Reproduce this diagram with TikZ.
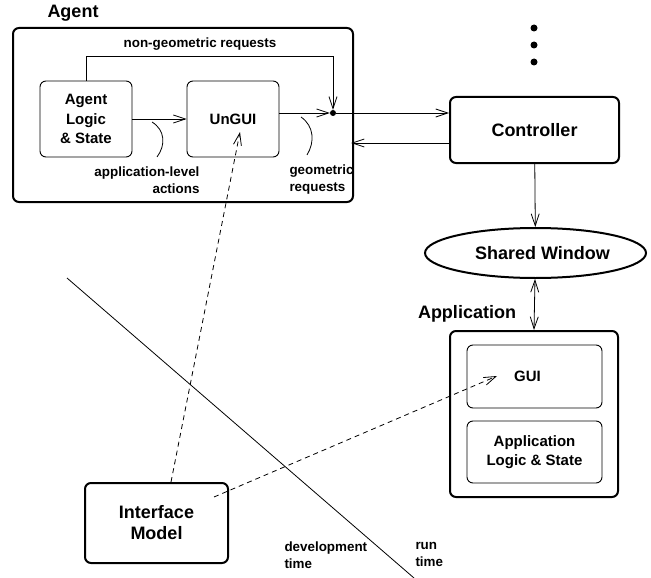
\documentclass[tikz,border=0pt]{standalone}
\usepackage{fontspec}
\setmainfont{Liberation Sans}
\usetikzlibrary{arrows.meta, positioning, shapes.geometric}

\tikzset{
  bigtext/.style={font=\fontsize{18}{21}\selectfont\bfseries},
  midtext/.style={font=\fontsize{15}{19.5}\selectfont\bfseries},
  smalltext/.style={font=\fontsize{13.4}{17}\selectfont\bfseries},
  outerbox/.style={draw, line width=2pt, rounded corners=6pt, inner sep=0pt},
  innerbox/.style={draw, line width=0.9pt, rounded corners=6pt, inner sep=0pt, align=center, midtext},
  link/.style={line width=0.8pt, -{Straight Barb[length=12pt, width=8pt]}},
  twolink/.style={line width=0.8pt, {Straight Barb[length=12pt, width=8pt]}-{Straight Barb[length=12pt, width=8pt]}},
  dashlink/.style={link, dash pattern=on 5pt off 4pt}
}

\begin{document}
\begin{tikzpicture}[x=1pt, y=-1pt]
  \useasboundingbox (0,0) rectangle (651,578);

  % agent side
  \node[outerbox, minimum width=340pt, minimum height=174pt] (agent) at (183,115) {};
  \node[bigtext] (agentlabel) at (73,13) {Agent};
  \node[innerbox, minimum width=92pt, minimum height=76pt] (logic) at (86,119) {Agent\\Logic\\\& State};
  \node[innerbox, minimum width=92pt, minimum height=76pt] (ungui) at (233,119) {UnGUI};
  \node[circle, fill, inner sep=0pt, minimum size=6pt] (dot) at (333,113) {};
  \coordinate (bend) at (333,56);
  \node[smalltext] (nongeo) at (200,44) {non-geometric requests};
  \node[smalltext, align=right, anchor=east] (applevel) at (203,180) {application-level\\actions};
  \node[smalltext, align=left, anchor=west] (geo) at (286,180) {geometric\\requests};

  % controller and window
  \node[outerbox, minimum width=169pt, minimum height=66pt, bigtext] (controller) at (534.5,130) {Controller};
  \foreach \y in {28,45,62}
    \fill (534,\y) circle (3.5pt);
  \node[ellipse, draw, line width=2pt, minimum width=221pt, minimum height=50pt, inner sep=0pt, bigtext] (window) at (535.5,253) {\hspace*{14pt}Shared Window};

  % application side
  \node[outerbox, minimum width=168pt, minimum height=166pt] (app) at (534,414) {};
  \node[bigtext] (applabel) at (467,314) {Application};
  \node[innerbox, minimum width=135pt, minimum height=63pt] (gui) at (534.5,376.5) {GUI\hspace*{14pt}};
  \node[innerbox, minimum width=135pt, minimum height=62pt] (applogic) at (534.5,452) {Application\\Logic \& State};

  % development time
  \node[outerbox, minimum width=143pt, minimum height=80pt, bigtext, align=center] (model) at (156.5,523) {Interface\\Model};
  \coordinate (divtop) at (67,278);
  \coordinate (divbot) at (414,578);
  \draw[line width=0.8pt] (divtop) -- (divbot);
  \node[smalltext, align=left, anchor=west] (devtime) at (281,555) {development\\time};
  \node[smalltext, align=left, anchor=west] (runtime) at (412,554) {run\\time};

  % connectors
  \draw[link] (logic.north) |- (bend) -- (dot);
  \draw[link] (logic) -- (ungui);
  \draw[link] (ungui.east |- dot) -- (dot);
  \draw[link] (dot) -- (controller.west |- dot);
  \draw[link, shorten >=-3pt] ([yshift=-13pt]controller.west) -- ([yshift=-13pt]controller.west -| agent.east);
  \draw[link] (controller) -- (window);
  \draw[twolink] (window) -- (app.north);

  % callouts
  \draw[line width=0.8pt] (152,122) .. controls (165,130) and (166,145) .. (157,157);
  \draw[line width=0.8pt] (301,117) .. controls (314,126) and (315,142) .. (307,155);

  % mapping from interface model
  \coordinate (unguitip) at (240,132);
  \coordinate (guitip) at (497,376);
  \draw[dashlink] ([xshift=14.5pt]model.north) -- (unguitip);
  \draw[dashlink] ([shift={(-15pt,-15pt)}]model.north east) -- (guitip);
\end{tikzpicture}
\end{document}
